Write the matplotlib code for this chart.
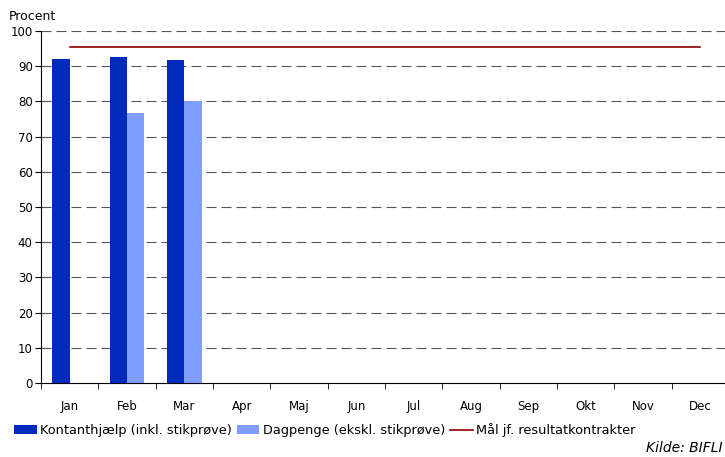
import matplotlib.pyplot as plt
from matplotlib.ticker import FixedLocator

months = ['Jan', 'Feb', 'Mar', 'Apr', 'Maj', 'Jun', 'Jul', 'Aug', 'Sep', 'Okt', 'Nov', 'Dec']
kontant = [92.0, 92.5, 91.7]
dagpenge = [None, 76.8, 80.0]
maal = 95.4

plt.rcParams['font.family'] = 'DejaVu Sans'
plt.rcParams['font.size'] = 8.5

fig = plt.figure(figsize=(7.25, 4.57), dpi=100)
ax = fig.add_axes([41 / 725, 1 - 383 / 457, 688 / 725, 352 / 457])

w = 0.3
x_k = [i - w / 2 for i in range(len(kontant))]
b1 = ax.bar(x_k, kontant, width=w, color='#002BBD', label='Kontanthjælp (inkl. stikprøve)', zorder=3)
x_d = [i + w / 2 for i, v in enumerate(dagpenge) if v is not None]
v_d = [v for v in dagpenge if v is not None]
b2 = ax.bar(x_d, v_d, width=w, color='#7F9CFF', label='Dagpenge (ekskl. stikprøve)', zorder=3)
l1, = ax.plot([0, len(months) - 1], [maal, maal], color='#8B0000', linewidth=1.2,
              label='Mål jf. resultatkontrakter', zorder=4)

ax.set_xlim(-0.5, len(months) - 0.5)
ax.set_ylim(0, 100)
ax.set_yticks(range(0, 101, 10))
ax.set_xticks(range(len(months)))
ax.set_xticklabels(months)
ax.xaxis.set_minor_locator(FixedLocator([i - 0.5 for i in range(len(months) + 1)]))
ax.tick_params(axis='x', which='major', length=0, pad=12, labelsize=8.5)
ax.tick_params(axis='x', which='minor', length=4, direction='out')
ax.tick_params(axis='y', length=4, direction='out', pad=2, labelsize=8.5)
for y in range(10, 101, 10):
    ax.axhline(y, color='#555555', linestyle=(0, (9, 4.5)), linewidth=0.8, zorder=1)

ax.spines['top'].set_visible(False)
ax.spines['right'].set_visible(False)

fig.text(9 / 725, 1 - 17 / 457, 'Procent', fontsize=9, va='center', ha='left')
fig.legend([b1, b2, l1], [b1.get_label(), b2.get_label(), l1.get_label()],
           loc='center left', bbox_to_anchor=(14 / 725, 1 - 430 / 457), ncol=3, frameon=False,
           fontsize=9.3, handlelength=1.75, handleheight=0.65, handletextpad=0.25, columnspacing=0.4,
           borderaxespad=0, borderpad=0)
fig.text(723 / 725, 1 - 448 / 457, 'Kilde: BIFLI', fontsize=10, style='italic',
         ha='right', va='center')

fig.savefig('out.png', dpi=100)
